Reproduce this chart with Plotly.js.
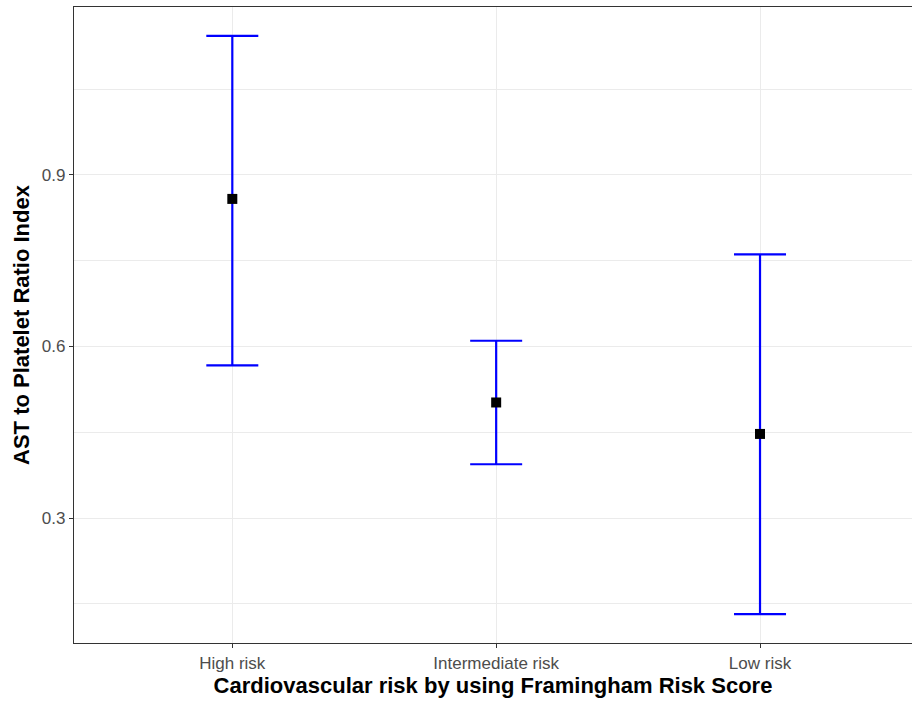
<!DOCTYPE html>
<html>
<head>
<meta charset="utf-8">
<script src="https://cdn.plot.ly/plotly-3.0.1.min.js"></script>
<style>html,body{margin:0;padding:0;background:#fff;overflow:hidden}#chart{width:912px;height:704px}</style>
</head>
<body>
<div id="chart"></div>
<script>
var categories = ["High risk", "Intermediate risk", "Low risk"];
var meanValues = [0.858, 0.502, 0.447];
var upperValues = [1.143, 0.610, 0.761];
var lowerValues = [0.567, 0.394, 0.132];
var yTickVals = [0.3, 0.6, 0.9];
var yTickText = ["0.3", "0.6", "0.9"];

var xIdx = categories.map(function(_, i){ return i; });
var errPlus = upperValues.map(function(u, i){ return u - meanValues[i]; });
var errMinus = lowerValues.map(function(l, i){ return meanValues[i] - l; });

var trace = {
  type: "scatter",
  mode: "markers",
  x: xIdx,
  y: meanValues,
  marker: {symbol: "square", color: "#000000", size: 10},
  error_y: {
    type: "data", symmetric: false,
    array: errPlus, arrayminus: errMinus,
    color: "#0000FF", thickness: 2.2, width: 26
  },
  showlegend: false,
  hoverinfo: "skip"
};

var layout = {
  width: 912, height: 704,
  margin: {l: 74, r: 0, t: 7, b: 61},
  paper_bgcolor: "#ffffff",
  plot_bgcolor: "#ffffff",
  font: {family: "Liberation Sans, Arial, sans-serif"},
  xaxis: {
    range: [-0.6, 2.576],
    tickvals: xIdx, ticktext: categories,
    showgrid: true, gridcolor: "#EBEBEB", gridwidth: 1,
    zeroline: false,
    showline: true, linecolor: "#333333", linewidth: 1.1, mirror: true,
    ticks: "outside", ticklen: 4, tickcolor: "#333333", tickwidth: 1,
    tickfont: {size: 17, color: "#4D4D4D"},
    title: {text: "Cardiovascular risk by using Framingham Risk Score", font: {size: 22, color: "#000000", weight: "bold"}, standoff: 6}
  },
  yaxis: {
    range: [0.0814, 1.1936],
    tickvals: yTickVals, ticktext: yTickText,
    showgrid: true, gridcolor: "#EBEBEB", gridwidth: 1,
    minor: {tickvals: [0.15, 0.45, 0.75, 1.05], showgrid: true, gridcolor: "#EBEBEB", gridwidth: 1, ticks: ""},
    zeroline: false,
    showline: true, linecolor: "#333333", linewidth: 1.1,
    ticks: "outside", ticklen: 4, tickcolor: "#333333", tickwidth: 1,
    tickfont: {size: 17, color: "#4D4D4D"},
    title: {text: "AST to Platelet Ratio Index", font: {size: 22, color: "#000000", weight: "bold"}, standoff: 6}
  }
};

Plotly.newPlot("chart", [trace], layout, {displayModeBar: false, staticPlot: true});
</script>
</body>
</html>
